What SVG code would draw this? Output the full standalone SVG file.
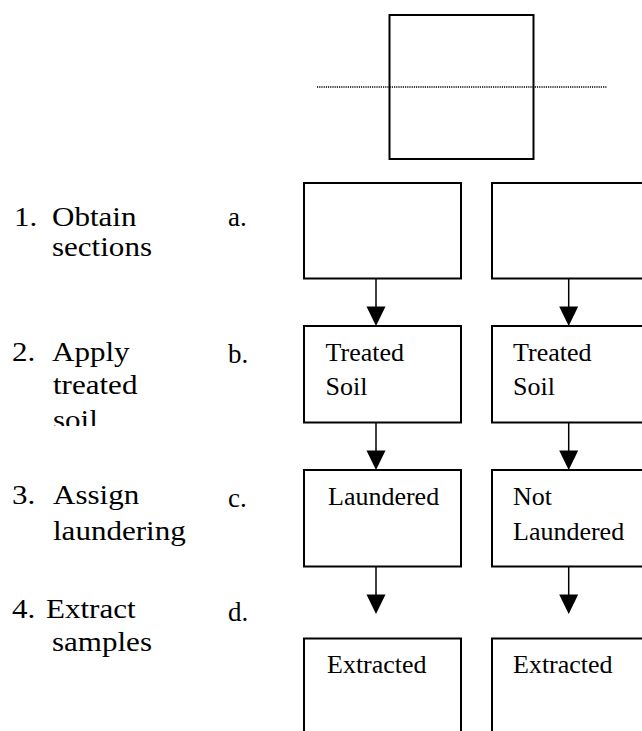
<svg xmlns="http://www.w3.org/2000/svg" width="642" height="731" viewBox="0 0 642 731">
<style>
text{font-family:'Liberation Serif','Times New Roman',Tinos,'DejaVu Serif',serif;fill:#000}
.box{fill:#fff;stroke:#000;stroke-width:2}
.bt{font-size:26px}
.lb{font-size:27px}
.shaft{stroke:#000;stroke-width:1.5;fill:none}
.head{fill:#000}
</style>
<defs>
<clipPath id="clipSoil"><rect x="0" y="0" width="300" height="426"/></clipPath>
</defs>
<rect width="642" height="731" fill="#fff"/>

<g id="top-section">
<rect class="box" x="389.5" y="15" width="144" height="144"/>
<line x1="317" y1="87" x2="607" y2="87" stroke="#000" stroke-width="1.5" stroke-dasharray="1.2 1"/>
</g>

<g id="step-labels">
<g id="label-1">
<text class="lb" transform="translate(14,226) scale(1.15,1)">1.</text>
<text class="lb" transform="translate(52,226) scale(1.15,1)">Obtain</text>
<text class="lb" transform="translate(52,256) scale(1.15,1)">sections</text>
<text class="lb" transform="translate(228,226)">a.</text>
</g>
<g id="label-2">
<text class="lb" transform="translate(12,361) scale(1.15,1)">2.</text>
<text class="lb" transform="translate(52,361) scale(1.15,1)">Apply</text>
<text class="lb" transform="translate(53,394) scale(1.15,1)">treated</text>
<g clip-path="url(#clipSoil)"><text class="lb" transform="translate(53,429) scale(1.15,1)">soil</text></g>
<text class="lb" transform="translate(228,363)">b.</text>
</g>
<g id="label-3">
<text class="lb" transform="translate(12,504) scale(1.15,1)">3.</text>
<text class="lb" transform="translate(53,504) scale(1.15,1)">Assign</text>
<text class="lb" transform="translate(53,540) scale(1.15,1)">laundering</text>
<text class="lb" transform="translate(228,507)">c.</text>
</g>
<g id="label-4">
<text class="lb" transform="translate(12,618) scale(1.15,1)">4.</text>
<text class="lb" transform="translate(46,618) scale(1.15,1)">Extract</text>
<text class="lb" transform="translate(52,651) scale(1.15,1)">samples</text>
<text class="lb" transform="translate(228,621)">d.</text>
</g>
</g>

<g id="connectors">
<line class="shaft" x1="376" y1="279" x2="376" y2="308"/>
<polygon class="head" points="366.5,306.5 385.5,306.5 376,326"/>
<line class="shaft" x1="568.7" y1="279" x2="568.7" y2="308"/>
<polygon class="head" points="559.2,306.5 578.2,306.5 568.7,326"/>
<line class="shaft" x1="376" y1="423" x2="376" y2="452"/>
<polygon class="head" points="366.5,450.5 385.5,450.5 376,470"/>
<line class="shaft" x1="568.7" y1="423" x2="568.7" y2="452"/>
<polygon class="head" points="559.2,450.5 578.2,450.5 568.7,470"/>
<line class="shaft" x1="376" y1="567" x2="376" y2="596"/>
<polygon class="head" points="366.5,594.5 385.5,594.5 376,614"/>
<line class="shaft" x1="568.7" y1="567" x2="568.7" y2="596"/>
<polygon class="head" points="559.2,594.5 578.2,594.5 568.7,614"/>
</g>

<g id="a-left"><rect class="box" x="304" y="183" width="157" height="95.5"/></g>
<g id="a-right"><rect class="box" x="492" y="183" width="160" height="95.5"/></g>

<g id="b-left"><rect class="box" x="304" y="326" width="157" height="96.5"/>
<text class="bt" x="325.5" y="361">Treated</text><text class="bt" x="325.5" y="395">Soil</text></g>
<g id="b-right"><rect class="box" x="492" y="326" width="160" height="96.5"/>
<text class="bt" x="513" y="361">Treated</text><text class="bt" x="513" y="395">Soil</text></g>

<g id="c-left"><rect class="box" x="304" y="470" width="157" height="96.5"/>
<text class="bt" x="328" y="505">Laundered</text></g>
<g id="c-right"><rect class="box" x="492" y="470" width="160" height="96.5"/>
<text class="bt" x="513" y="505">Not</text><text class="bt" x="513" y="540">Laundered</text></g>

<g id="d-left"><rect class="box" x="304" y="638.5" width="157" height="110"/>
<text class="bt" x="327" y="673">Extracted</text></g>
<g id="d-right"><rect class="box" x="492" y="638.5" width="160" height="110"/>
<text class="bt" x="513" y="673">Extracted</text></g>
</svg>
